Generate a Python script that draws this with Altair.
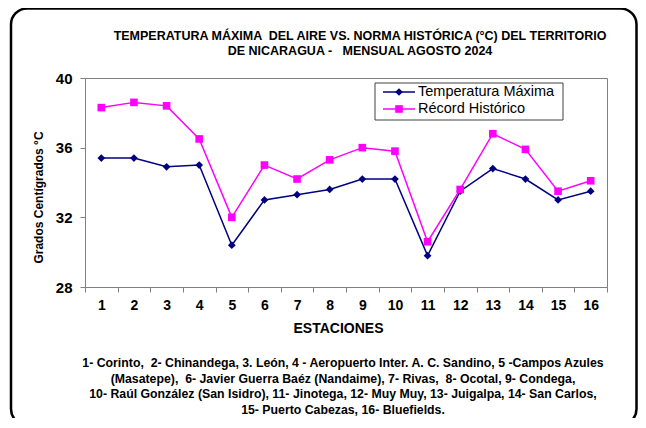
import altair as alt
import pandas as pd

# ---------------- data ----------------
stations = list(range(1, 17))
temp_max = [35.4, 35.4, 34.9, 35.0, 30.4, 33.0, 33.3, 33.6, 34.2, 34.2, 29.8, 33.5, 34.8, 34.2, 33.0, 33.5]
record_hist = [38.3, 38.6, 38.4, 36.5, 32.0, 35.0, 34.2, 35.3, 36.0, 35.8, 30.6, 33.6, 36.8, 35.9, 33.5, 34.1]
series_names = ["Temperatura Máxima", "Récord Histórico"]
y_ticks = [28, 32, 36, 40]
NB = "\u00a0"
title_lines = [
    f"TEMPERATURA MÁXIMA {NB}DEL AIRE VS. NORMA HISTÓRICA (°C) DEL TERRITORIO",
    f"DE NICARAGUA - {NB}{NB}MENSUAL AGOSTO 2024",
]
footnote_lines = [
    f"1- Corinto, {NB}2- Chinandega, 3. León, 4 - Aeropuerto Inter. A. C. Sandino, 5 -Campos Azules",
    f"(Masatepe), {NB}6- Javier Guerra Baéz (Nandaime), 7- Rivas, {NB}8- Ocotal, 9- Condega,",
    "10- Raúl González (San Isidro), 11- Jinotega, 12- Muy Muy, 13- Juigalpa, 14- San Carlos,",
    "15- Puerto Cabezas, 16- Bluefields.",
]

df = pd.DataFrame({"station": stations, "tmax": temp_max, "record": record_hist})

FONT = "Liberation Sans"
NAVY = "#000080"
PINK = "#FF00FF"
W, H = 522, 209
tick_edges = [i + 0.5 for i in range(0, 17)]

x_axis = alt.Axis(
    values=tick_edges,
    labelExpr="datum.value < 16 ? format(datum.value + 0.5, 'd') : ''",
    labelOffset=W / 32,
    tickSize=5,
    labelPadding=6,
    labelFontSize=14,
    labelFontWeight="bold",
    labelFont=FONT,
    labelColor="black",
    labelFlush=False,
    labelOverlap=False,
    labelBound=False,
    title="ESTACIONES",
    titleFont=FONT,
    titleFontSize=14,
    titleFontWeight="bold",
    titleColor="black",
    titleX=253,
    titleY=41,
    titleAlign="center",
    titleBaseline="middle",
    domainColor="#808080",
    tickColor="#808080",
    grid=False,
)
x_scale = alt.Scale(domain=[0.5, 16.5], nice=False, zero=False)

y_axis = alt.Axis(
    values=y_ticks,
    tickSize=5,
    labelPadding=8,
    labelFontSize=15,
    labelFontWeight="bold",
    labelFont=FONT,
    labelColor="black",
    title="Grados Centígrados °C",
    titleFont=FONT,
    titleFontSize=12,
    titleFontWeight="bold",
    titleColor="black",
    titleX=-47,
    titleY=119,
    titleAngle=-90,
    titleAlign="center",
    titleBaseline="middle",
    domainColor="#808080",
    tickColor="#808080",
    grid=False,
)
y_scale = alt.Scale(domain=[28, 40], nice=False, zero=False)


def xe():
    return alt.X("station:Q", scale=x_scale, axis=x_axis)


def ye(field):
    return alt.Y(f"{field}:Q", scale=y_scale, axis=y_axis)


base = alt.Chart(df)
line_t = base.mark_line(color=NAVY, strokeWidth=1.5).encode(x=xe(), y=ye("tmax"))
pts_t = base.mark_point(shape="diamond", filled=True, color=NAVY, size=60, opacity=1).encode(
    x=xe(), y=ye("tmax")
)
line_r = base.mark_line(color=PINK, strokeWidth=1.5).encode(x=xe(), y=ye("record"))
pts_r = base.mark_point(shape="square", filled=True, color=PINK, size=58, opacity=1).encode(
    x=xe(), y=ye("record")
)

one = alt.Data(values=[{}])

# outer rounded frame
frame = alt.Chart(one).mark_rect(
    fill=None, stroke="black", strokeWidth=2.5, cornerRadius=16
).encode(x=alt.value(-74), x2=alt.value(551.5), y=alt.value(-69.5), y2=alt.value(347))

# legend
leg_box = alt.Chart(one).mark_rect(fill="white", stroke="#404040", strokeWidth=1).encode(
    x=alt.value(290), x2=alt.value(478), y=alt.value(5), y2=alt.value(42)
)
leg_layers = [leg_box]
for i, (name, col, shp, sz) in enumerate(
    zip(series_names, [NAVY, PINK], ["diamond", "square"], [60, 58])
):
    yy = 14 + i * 17
    leg_layers.append(
        alt.Chart(one).mark_rule(color=col, strokeWidth=1.5).encode(
            x=alt.value(298), x2=alt.value(330), y=alt.value(yy)
        )
    )
    leg_layers.append(
        alt.Chart(one).mark_point(shape=shp, filled=True, color=col, size=sz, opacity=1).encode(
            x=alt.value(314), y=alt.value(yy)
        )
    )
    leg_layers.append(
        alt.Chart(one).mark_text(
            text=name, align="left", baseline="middle", font=FONT, fontSize=14.5, color="black"
        ).encode(x=alt.value(333), y=alt.value(yy))
    )

# title lines
title_layers = []
for i, t in enumerate(title_lines):
    title_layers.append(
        alt.Chart(one).mark_text(
            text=t, align="center", baseline="middle", font=FONT, fontSize=12.5,
            fontWeight="bold", color="black"
        ).encode(x=alt.value(275), y=alt.value(-42.5 + i * 15.5))
    )

# footnote lines
foot_layers = []
for i, t in enumerate(footnote_lines):
    foot_layers.append(
        alt.Chart(one).mark_text(
            text=t, align="center", baseline="middle", font=FONT, fontSize=12.3,
            fontWeight="bold", color="black"
        ).encode(x=alt.value(258), y=alt.value(285 + i * 15.6))
    )

chart = alt.layer(
    frame, line_t, pts_t, line_r, pts_r, *leg_layers, *title_layers, *foot_layers
).properties(
    width=W,
    height=H,
    padding={"left": 77, "top": 70, "right": 31, "bottom": 131},
    autosize=alt.AutoSizeParams(type="none"),
    background="white",
).configure_view(stroke="#808080", strokeWidth=1)

chart.save("out.html", embed_options={"renderer": "svg", "actions": False})
